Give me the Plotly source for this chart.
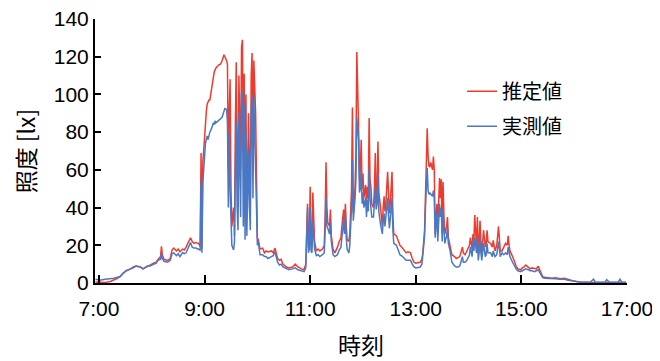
import plotly.graph_objects as go

times = [
    "6:56", "7:01", "7:07", "7:13", "7:17", "7:21", "7:24", "7:28", "7:31", "7:36",
    "7:39", "7:42", "7:47", "7:50", "7:55", "7:58", "8:02", "8:05", "8:07", "8:10",
    "8:11", "8:12", "8:14", "8:18", "8:21", "8:23", "8:25", "8:28", "8:30", "8:32",
    "8:35", "8:37", "8:39", "8:41", "8:44", "8:46", "8:48", "8:50", "8:53", "8:55",
    "8:56", "8:57", "8:58", "9:00", "9:01", "9:02", "9:03", "9:04", "9:05", "9:06",
    "9:08", "9:09", "9:10", "9:11", "9:12", "9:13", "9:16", "9:18", "9:20", "9:22",
    "9:23", "9:25", "9:26", "9:27", "9:28", "9:29", "9:30", "9:31", "9:33", "9:34",
    "9:35", "9:36", "9:37", "9:38", "9:39", "9:41", "9:42", "9:43", "9:44", "9:45",
    "9:46", "9:47", "9:48", "9:50", "9:51", "9:52", "9:53", "9:54", "9:55", "9:56",
    "9:58", "9:59", "10:00", "10:01", "10:03", "10:06", "10:08", "10:10", "10:12", "10:16",
    "10:18", "10:20", "10:23", "10:25", "10:27", "10:29", "10:33", "10:36", "10:40", "10:43",
    "10:46", "10:50", "10:53", "10:55", "10:57", "10:58", "10:59", "11:00", "11:01", "11:02",
    "11:03", "11:05", "11:07", "11:09", "11:11", "11:14", "11:16", "11:17", "11:18", "11:19",
    "11:20", "11:22", "11:23", "11:24", "11:26", "11:28", "11:31", "11:33", "11:35", "11:36",
    "11:38", "11:39", "11:40", "11:41", "11:42", "11:44", "11:45", "11:47", "11:48", "11:49",
    "11:50", "11:51", "11:52", "11:53", "11:55", "11:56", "11:57", "11:58", "11:59", "12:00",
    "12:01", "12:03", "12:04", "12:05", "12:06", "12:07", "12:08", "12:09", "12:10", "12:12",
    "12:13", "12:14", "12:15", "12:16", "12:17", "12:18", "12:20", "12:22", "12:23", "12:24",
    "12:25", "12:26", "12:28", "12:29", "12:30", "12:31", "12:32", "12:33", "12:34", "12:35",
    "12:38", "12:40", "12:42", "12:45", "12:47", "12:49", "12:51", "12:54", "12:56", "12:58",
    "13:00", "13:03", "13:05", "13:07", "13:08", "13:10", "13:11", "13:12", "13:13", "13:14",
    "13:15", "13:16", "13:17", "13:19", "13:20", "13:21", "13:22", "13:23", "13:24", "13:25",
    "13:27", "13:28", "13:29", "13:30", "13:31", "13:32", "13:33", "13:35", "13:36", "13:37",
    "13:39", "13:41", "13:44", "13:46", "13:48", "13:50", "13:53", "13:54", "13:56", "13:58",
    "14:01", "14:02", "14:03", "14:04", "14:05", "14:06", "14:07", "14:09", "14:10", "14:11",
    "14:12", "14:13", "14:14", "14:15", "14:17", "14:18", "14:19", "14:20", "14:21", "14:22",
    "14:25", "14:27", "14:28", "14:30", "14:32", "14:34", "14:35", "14:36", "14:38", "14:40",
    "14:42", "14:44", "14:45", "14:46", "14:47", "14:50", "14:52", "14:54", "14:56", "14:59",
    "15:01", "15:03", "15:05", "15:08", "15:10", "15:12", "15:15", "15:17", "15:19", "15:21",
    "15:24", "15:26", "15:30", "15:35", "15:39", "15:44", "15:49", "15:53", "15:58", "16:02",
    "16:07", "16:18", "16:22", "16:24", "16:35", "16:37", "16:40", "16:50", "16:52", "16:54",
    "16:59",
]

estimated = [
    0.5, 0.5, 0.3, 0.8, 1.5, 2.5, 3.5, 5.5, 6.5, 7.5,
    8.5, 9, 8.5, 7.5, 9, 9.5, 10.5, 11, 12.5, 14,
    19.5, 15, 12.5, 12, 13, 17.5, 18.5, 17, 18, 16.5,
    18, 17.5, 19, 21, 24, 22, 21, 21.5, 21, 19.5,
    69, 18, 64, 77, 88, 91, 95, 96, 97, 97,
    104, 108, 110, 112, 113, 114, 115.6, 116, 118, 121,
    120, 118, 116, 60, 90, 108, 50, 30, 40, 25,
    85, 117, 70, 40, 110, 60, 125, 129, 70, 111,
    40, 100, 35, 90, 60, 45, 110, 122, 60, 118,
    90, 40, 24, 23, 18, 18.5, 16, 17, 16.5, 17,
    16, 18.5, 13, 12, 12.5, 10, 8.5, 8, 8.5, 10,
    8.5, 7.5, 7, 10, 42, 19, 22, 51, 20, 19,
    48, 22, 17, 18, 17, 18, 20, 35, 64, 40,
    32, 30, 39, 25, 18, 16, 19, 22, 24, 30,
    39, 30, 42, 30, 23, 22, 26, 50, 93, 37,
    45, 51, 70, 122.5, 83, 55, 60, 76, 50, 58,
    45, 52, 40, 51, 45, 87.5, 55, 51, 42, 40,
    50, 69, 44, 48, 75, 48, 40, 30, 40, 46,
    38, 42, 59, 45, 37, 42, 50, 59, 35, 26,
    25, 22, 20, 18.5, 17.5, 16, 16.5, 16, 13, 11,
    10.5, 11, 11, 12.5, 16, 28, 45, 64, 82, 67,
    62, 61.5, 64, 60, 67, 60, 26, 35, 42, 30,
    55.6, 45, 55, 26, 53.6, 35, 26, 30, 35, 24,
    19, 15, 14, 13, 13.5, 14, 19, 16, 15, 17,
    20, 24, 20, 18, 26, 22, 36, 19, 35, 16,
    22, 33, 22, 16, 28, 22, 19, 21, 28, 22,
    21, 19, 22.6, 17, 20, 30, 22, 17, 17, 19,
    21, 20, 25, 20, 17, 14, 11, 9, 7.5, 7,
    8, 8.5, 9.5, 8.5, 7.5, 8, 7.5, 7.5, 9, 7,
    3.5, 3, 2.8, 2.5, 2.8, 2.2, 2.5, 1.8, 1.2, 0.8,
    0.5, 0.3, 0.3, 0.3, 0.2, 0.2, 0.2, 0.2, 0.2, 0.2,
    0.2,
]

measured = [
    2, 1.5, 2, 2.2, 2.5, 3, 3.3, 5.5, 6.5, 7.5,
    8, 9, 8.5, 7.5, 9, 9, 10, 10.5, 12, 12.5,
    16, 13, 11.5, 11, 12, 15.5, 16, 14.5, 15.5, 14,
    16, 15.5, 16, 18, 21.5, 19, 18.5, 18.5, 18, 17.5,
    53, 16, 53, 68, 74, 76, 78, 76, 79, 80,
    82, 84, 85, 84, 86, 85, 86, 87, 88, 91,
    92.5, 92, 85, 40, 80, 50, 28, 20, 17.5, 22,
    60, 85, 40, 28, 90, 35, 100, 102, 30, 95,
    23, 80, 25, 70, 40, 28, 90, 100, 45, 98,
    60, 30, 20, 22, 15, 15, 14, 14, 13, 14,
    14.5, 16.5, 11, 9.5, 10, 8.5, 7.5, 7, 7.5, 8,
    7, 6.5, 6, 8, 40, 16, 18, 40, 17, 16,
    33, 18, 14.5, 15, 14, 15, 16, 28, 45.6, 30,
    29, 26, 33, 22, 15, 14, 15, 17.5, 19, 24,
    33, 26, 37, 24, 18, 16, 20, 40, 65, 33,
    38, 45, 55, 87.5, 76, 48, 50, 61, 42, 48,
    40, 45, 35, 44, 38, 61, 45, 40, 35, 35,
    42, 51, 39, 42, 58, 38, 31, 26, 33, 37,
    30, 35, 45, 36, 29, 34, 40, 45, 28, 21,
    20, 17, 15, 14, 13, 12, 12, 12, 10, 8.5,
    8, 8.5, 8.5, 10, 14, 25, 40, 51, 61, 49,
    47, 48, 47, 46, 49, 45, 24, 30, 37, 22,
    42, 35, 40, 22, 39, 28, 21, 25, 29, 21,
    17, 11, 9, 8.5, 8.5, 9, 14, 11, 11, 12,
    15, 19, 15, 14, 22, 17, 24, 16, 24.5, 12,
    16, 24, 16, 12, 21, 17, 14, 15, 21, 16,
    16, 14, 17, 14, 15, 22, 16, 14, 16, 15,
    16, 15, 19, 16, 14, 11, 9, 7.5, 6.5, 6,
    6.5, 7, 7.5, 7, 6.5, 6.5, 6, 6.5, 7, 5.5,
    3, 2.5, 2.5, 2.2, 2.3, 2, 2, 1.5, 1, 0.8,
    0.5, 0.4, 2, 0.4, 0.4, 1.8, 0.4, 0.4, 2, 0.4,
    0.4,
]

tick_hours = [7, 9, 11, 13, 15, 17]
tick_labels = ["7:00", "9:00", "11:00", "13:00", "15:00", "17:00"]
y_ticks = [0, 20, 40, 60, 80, 100, 120, 140]
series_names = ["推定値", "実測値"]


def to_hours(s):
    h, m = s.split(":")
    return int(h) + int(m) / 60.0


x = [to_hours(t) for t in times]

RED = "#EF3B2D"
BLUE = "#4B78C4"
LATIN = "Liberation Sans, Arial, Noto Sans CJK JP"
CJK = "Noto Sans CJK JP, Liberation Sans"

fig = go.Figure()
fig.add_trace(go.Scatter(x=x, y=estimated, mode="lines", name=series_names[0],
                         line=dict(color=RED, width=1.5), legendgroup="a"))
fig.add_trace(go.Scatter(x=x, y=measured, mode="lines", name=series_names[1],
                         line=dict(color=BLUE, width=1.5), legendgroup="b"))

# the page body has an 8px default margin, so the figure is sized to fit inside it
fig.update_layout(
    width=652, height=353,
    margin=dict(l=87, r=33, t=11, b=78, autoexpand=False),
    paper_bgcolor="white", plot_bgcolor="white",
    font=dict(family=LATIN, size=21, color="black"),
    showlegend=True,
    legend=dict(x=0.69, y=0.80, xanchor="left", yanchor="top",
                font=dict(family=CJK, size=20, color="black"),
                bgcolor="rgba(0,0,0,0)", traceorder="grouped",
                tracegroupgap=6, itemwidth=30),
)
fig.update_xaxes(
    range=[6.925, 17.0], tickvals=tick_hours, ticktext=tick_labels,
    showgrid=False, zeroline=False, showline=True, linecolor="black", linewidth=2,
    ticks="inside", ticklen=8, tickwidth=2, tickcolor="black", automargin=False,
    tickfont=dict(family=LATIN, size=21, color="black"), ticklabelstandoff=6,
    ticklabeloverflow="allow",
    title=dict(text="時刻", font=dict(family=CJK, size=23, color="black"), standoff=19),
)
fig.update_yaxes(
    range=[0, 140], tickvals=y_ticks,
    showgrid=False, zeroline=False, showline=True, linecolor="black", linewidth=2,
    ticks="inside", ticklen=6, tickwidth=2, tickcolor="black", automargin=False,
    tickfont=dict(family=LATIN, size=21, color="black"), ticklabelstandoff=0,
    ticklabeloverflow="allow",
    title=dict(text="照度 [lx]", font=dict(family=CJK, size=23, color="black"), standoff=12),
)

fig.write_html("out.html")
